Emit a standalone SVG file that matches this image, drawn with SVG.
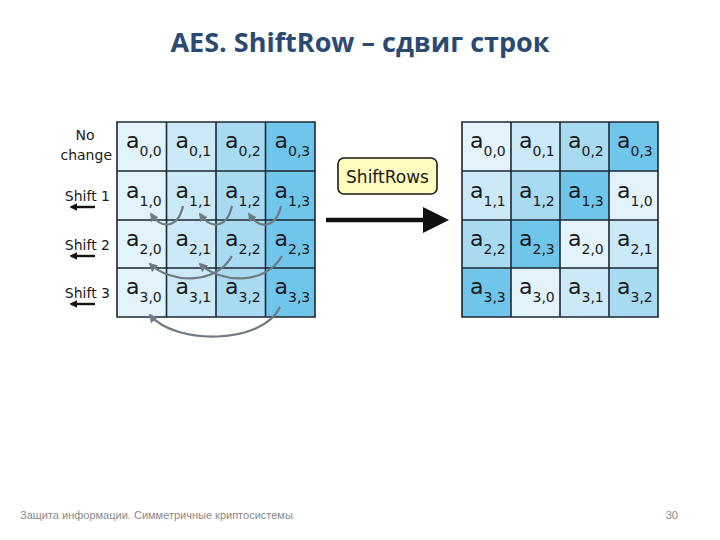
<svg xmlns="http://www.w3.org/2000/svg" width="720" height="540" viewBox="0 0 720 540">
<style>
.c0{fill:#e2f3fb}.c1{fill:#cbe9f7}.c2{fill:#a8dbf1}.c3{fill:#70c5ea}
.grid{fill:none;stroke:#1c2733;stroke-width:1.6}
.cell{font-family:"DejaVu Sans",Verdana,sans-serif;fill:#1a1a1a;font-size:22px}
.sub{font-size:14px}
.lbl{font-family:"DejaVu Sans",Verdana,sans-serif;font-size:14px;fill:#1a1a1a;text-anchor:end}
.curve{fill:none;stroke:#6f7a82;stroke-width:2.2}
</style>
<defs>
<marker id="ah" viewBox="0 0 10 10" refX="8" refY="5" markerWidth="4" markerHeight="4" orient="auto">
<path d="M0,0 L10,5 L0,10 z" fill="#6f7a82"/>
</marker>
<marker id="bh" viewBox="0 0 10 10" refX="8" refY="5" markerWidth="3.2" markerHeight="3.2" orient="auto">
<path d="M0,0 L10,5 L0,10 z" fill="#111"/>
</marker>
</defs>
<rect width="720" height="540" fill="#fff"/>
<text x="360" y="52" text-anchor="middle" font-family="'Open Sans','Liberation Sans',sans-serif" font-weight="bold" font-size="27" fill="#2b4a72">AES. ShiftRow – сдвиг строк</text>

<g id="left-labels">
<text class="lbl" x="85" y="140" style="text-anchor:middle">No</text>
<text class="lbl" x="112" y="160">change</text>
<text class="lbl" x="110" y="201">Shift 1</text>
<text class="lbl" x="110" y="250">Shift 2</text>
<text class="lbl" x="110" y="298">Shift 3</text>
<g stroke="#111" stroke-width="2.4">
<line x1="95" y1="207" x2="71" y2="207" marker-end="url(#bh)"/>
<line x1="95" y1="256" x2="71" y2="256" marker-end="url(#bh)"/>
<line x1="95" y1="304" x2="71" y2="304" marker-end="url(#bh)"/>
</g>
</g>

<g id="state-before">
<rect class="c0" x="117" y="122" width="49.5" height="195"/>
<rect class="c1" x="166.5" y="122" width="49.5" height="195"/>
<rect class="c2" x="216" y="122" width="49.5" height="195"/>
<rect class="c3" x="265.5" y="122" width="49.5" height="195"/>
<path class="grid" d="M117,122H315V317H117Z M166.5,122V317 M216,122V317 M265.5,122V317 M117,171H315 M117,220H315 M117,268H315"/>
<g class="cell">
<text x="126" y="148">a<tspan class="sub" dy="8">0,0</tspan></text>
<text x="175.5" y="148">a<tspan class="sub" dy="8">0,1</tspan></text>
<text x="225" y="148">a<tspan class="sub" dy="8">0,2</tspan></text>
<text x="274.5" y="148">a<tspan class="sub" dy="8">0,3</tspan></text>
<text x="126" y="198">a<tspan class="sub" dy="8">1,0</tspan></text>
<text x="175.5" y="198">a<tspan class="sub" dy="8">1,1</tspan></text>
<text x="225" y="198">a<tspan class="sub" dy="8">1,2</tspan></text>
<text x="274.5" y="198">a<tspan class="sub" dy="8">1,3</tspan></text>
<text x="126" y="246">a<tspan class="sub" dy="8">2,0</tspan></text>
<text x="175.5" y="246">a<tspan class="sub" dy="8">2,1</tspan></text>
<text x="225" y="246">a<tspan class="sub" dy="8">2,2</tspan></text>
<text x="274.5" y="246">a<tspan class="sub" dy="8">2,3</tspan></text>
<text x="126" y="294">a<tspan class="sub" dy="8">3,0</tspan></text>
<text x="175.5" y="294">a<tspan class="sub" dy="8">3,1</tspan></text>
<text x="225" y="294">a<tspan class="sub" dy="8">3,2</tspan></text>
<text x="274.5" y="294">a<tspan class="sub" dy="8">3,3</tspan></text>
</g>
</g>

<g id="connectors">
<path class="curve" d="M183,206 C178,228 162,230 151,214" marker-end="url(#ah)"/>
<path class="curve" d="M232,206 C227,228 211,230 200,214" marker-end="url(#ah)"/>
<path class="curve" d="M281,206 C276,228 260,230 249,214" marker-end="url(#ah)"/>
<path class="curve" d="M232,256 C215,286 170,283 150,264" marker-end="url(#ah)"/>
<path class="curve" d="M282,256 C265,286 220,283 200,264" marker-end="url(#ah)"/>
<path class="curve" d="M280,307 C262,345 175,345 150,315" marker-end="url(#ah)"/>
<line x1="326" y1="220" x2="428" y2="220" stroke="#111" stroke-width="4.5"/>
<path d="M423,207 L449,220 L423,233 Z" fill="#111"/>
</g>

<g id="shiftrows-box">
<rect x="338" y="158" width="99" height="36" rx="6" fill="#fdfbbd" stroke="#1a1a1a" stroke-width="1.6"/>
<text x="387.5" y="183" text-anchor="middle" font-family="'DejaVu Sans',Verdana,sans-serif" font-size="17" fill="#1a1a1a">ShiftRows</text>
</g>

<g id="state-after">
<rect class="c0" x="462" y="122" width="49" height="49"/>
<rect class="c1" x="511" y="122" width="49" height="49"/>
<rect class="c2" x="560" y="122" width="49" height="49"/>
<rect class="c3" x="609" y="122" width="49" height="49"/>
<rect class="c1" x="462" y="171" width="49" height="49"/>
<rect class="c2" x="511" y="171" width="49" height="49"/>
<rect class="c3" x="560" y="171" width="49" height="49"/>
<rect class="c0" x="609" y="171" width="49" height="49"/>
<rect class="c2" x="462" y="220" width="49" height="48"/>
<rect class="c3" x="511" y="220" width="49" height="48"/>
<rect class="c0" x="560" y="220" width="49" height="48"/>
<rect class="c1" x="609" y="220" width="49" height="48"/>
<rect class="c3" x="462" y="268" width="49" height="49"/>
<rect class="c0" x="511" y="268" width="49" height="49"/>
<rect class="c1" x="560" y="268" width="49" height="49"/>
<rect class="c2" x="609" y="268" width="49" height="49"/>
<path class="grid" d="M462,122H658V317H462Z M511,122V317 M560,122V317 M609,122V317 M462,171H658 M462,220H658 M462,268H658"/>
<g class="cell">
<text x="470" y="148">a<tspan class="sub" dy="8">0,0</tspan></text>
<text x="519" y="148">a<tspan class="sub" dy="8">0,1</tspan></text>
<text x="568" y="148">a<tspan class="sub" dy="8">0,2</tspan></text>
<text x="617" y="148">a<tspan class="sub" dy="8">0,3</tspan></text>
<text x="470" y="198">a<tspan class="sub" dy="8">1,1</tspan></text>
<text x="519" y="198">a<tspan class="sub" dy="8">1,2</tspan></text>
<text x="568" y="198">a<tspan class="sub" dy="8">1,3</tspan></text>
<text x="617" y="198">a<tspan class="sub" dy="8">1,0</tspan></text>
<text x="470" y="246">a<tspan class="sub" dy="8">2,2</tspan></text>
<text x="519" y="246">a<tspan class="sub" dy="8">2,3</tspan></text>
<text x="568" y="246">a<tspan class="sub" dy="8">2,0</tspan></text>
<text x="617" y="246">a<tspan class="sub" dy="8">2,1</tspan></text>
<text x="470" y="294">a<tspan class="sub" dy="8">3,3</tspan></text>
<text x="519" y="294">a<tspan class="sub" dy="8">3,0</tspan></text>
<text x="568" y="294">a<tspan class="sub" dy="8">3,1</tspan></text>
<text x="617" y="294">a<tspan class="sub" dy="8">3,2</tspan></text>
</g>
</g>

<text x="20" y="519" font-family="'Liberation Sans',Arial,sans-serif" font-size="11" fill="#8a8a8a">Защита информации. Симметричные криптосистемы</text>
<text x="678" y="519" text-anchor="end" font-family="'Liberation Sans',Arial,sans-serif" font-size="11" fill="#8a8a8a">30</text>
</svg>
